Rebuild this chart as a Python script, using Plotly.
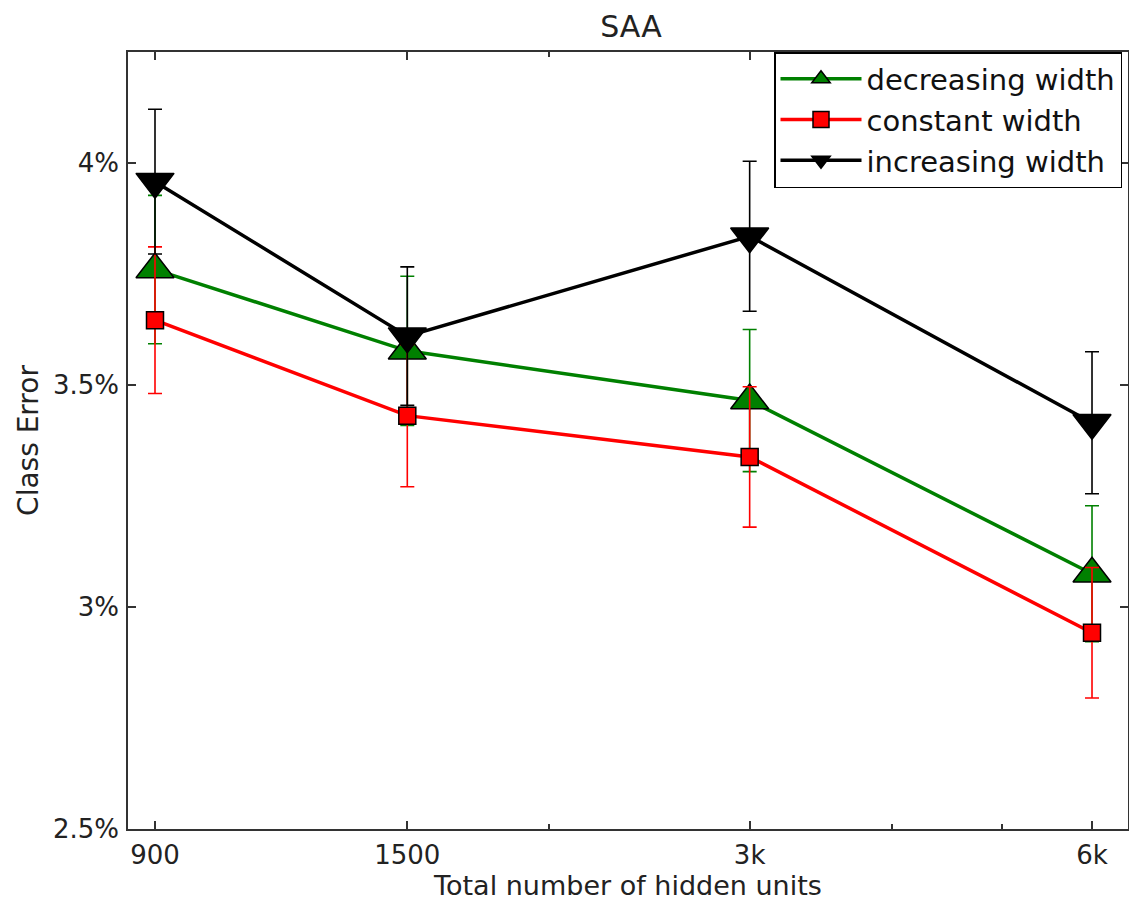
import plotly.graph_objects as go

units = [900, 1500, 3000, 6000]
tick_text = ["900", "1500", "3k", "6k"]
minor_ticks = [2000, 4000, 5000]

dec_err = [3.760, 3.577, 3.465, 3.075]
dec_sd = [0.167, 0.168, 0.160, 0.153]
const_err = [3.646, 3.431, 3.338, 2.942]
const_sd = [0.165, 0.160, 0.158, 0.147]
inc_err = [3.958, 3.610, 3.835, 3.415]
inc_sd = [0.163, 0.156, 0.169, 0.160]

y_ticks = [2.5, 3.0, 3.5, 4.0]
y_tick_text = ["2.5%", "3%", "3.5%", "4%"]

series = [
    ("decreasing width", dec_err, dec_sd, "#008000", "triangle-up", 33),
    ("constant width", const_err, const_sd, "#ff0000", "square", 17),
    ("increasing width", inc_err, inc_sd, "#000000", "triangle-down", 33),
]

fig = go.Figure()
for name, vals, sd, col, sym, size in series:
    fig.add_trace(go.Scatter(
        x=units, y=vals, name=name, mode="lines+markers",
        line=dict(color=col, width=3.5),
        marker=dict(symbol=sym, size=size, color=col,
                    line=dict(color="#000000", width=1.5)),
        error_y=dict(type="data", array=sd, visible=True,
                     color=col, thickness=1.6, width=7),
    ))

font_fam = "DejaVu Sans"
axis_common = dict(
    showline=True, linecolor="#333333", linewidth=1.5, mirror="ticks",
    ticks="inside", tickcolor="#333333", tickwidth=1.5,
    showgrid=False, zeroline=False, automargin=False,
    tickfont=dict(family=font_fam, size=26, color="#222222"),
)

# the page body adds an 8px offset; plot frame placed to match the reference
fig.update_layout(
    width=1137, height=899,
    margin=dict(l=120, r=17, t=44, b=78, autoexpand=False),
    paper_bgcolor="white", plot_bgcolor="white",
    font=dict(family=font_fam, color="#222222"),
    title=dict(text="SAA", x=623 / 1137, xanchor="center",
               y=1 - 18 / 899, yanchor="middle", yref="container",
               font=dict(size=30, family=font_fam, color="#222222")),
    xaxis=dict(
        type="log", range=[2.9305, 3.8098],
        tickmode="array", tickvals=units, ticktext=tick_text, ticklen=8,
        minor=dict(tickvals=minor_ticks, ticks="inside", ticklen=5,
                   tickcolor="#333333", tickwidth=1.5),
        title=dict(text="Total number of hidden units", standoff=2,
                   font=dict(size=27, family=font_fam, color="#222222")),
        ticklabelstandoff=2,
        **axis_common,
    ),
    yaxis=dict(
        range=[2.5, 4.25],
        tickmode="array", tickvals=y_ticks, ticktext=y_tick_text, ticklen=8,
        title=dict(text="Class Error", standoff=6,
                   font=dict(size=28, family=font_fam, color="#222222")),
        ticklabelstandoff=2,
        **axis_common,
    ),
    legend=dict(
        x=0.646, xanchor="left", y=1.0, yanchor="top",
        bgcolor="white", bordercolor="#000000", borderwidth=1.5,
        font=dict(size=29, family=font_fam, color="#111111"),
        itemwidth=81, tracegroupgap=0,
    ),
    showlegend=True,
)

fig.write_html("out.html")
